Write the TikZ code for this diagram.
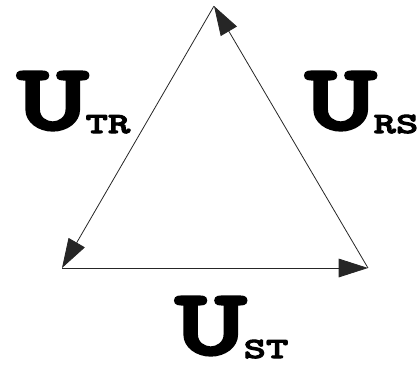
\documentclass[tikz,border=0pt]{standalone}
\usepackage{fontspec}
\newfontfamily\slabfont{lmmonolt10-bold.otf}[FakeBold=3.5, FakeStretch=1.45]
\usetikzlibrary{arrows.meta}
\tikzset{
  side/.style={-{Triangle[length=22pt, width=14pt]}, line width=0.6pt, draw=black!85},
  flux/.style={inner sep=0pt, anchor=base west, font=\slabfont}
}
\newcommand{\bigU}[1]{{\fontsize{70}{70}\selectfont U}\kern-2pt\raisebox{-3pt}{\fontsize{22}{22}\selectfont #1}}

\begin{document}
\begin{tikzpicture}[x=0.75pt, y=-0.75pt]
  \useasboundingbox (0,0) rectangle (417,365);
  % corners of the triangle
  \coordinate (R) at (214,6);
  \coordinate (S) at (368,268);
  \coordinate (T) at (62,268);
  \draw[side] (T) -- (S);
  \draw[side] (S) -- (R);
  \draw[side] (R) -- (T);
  % labels
  \node[flux] (utr) at (17,129) {\bigU{TR}};
  \node[flux] (urs) at (305,129) {\bigU{RS}};
  \node[flux] (ust) at (175,354) {\bigU{ST}};
\end{tikzpicture}
\end{document}
